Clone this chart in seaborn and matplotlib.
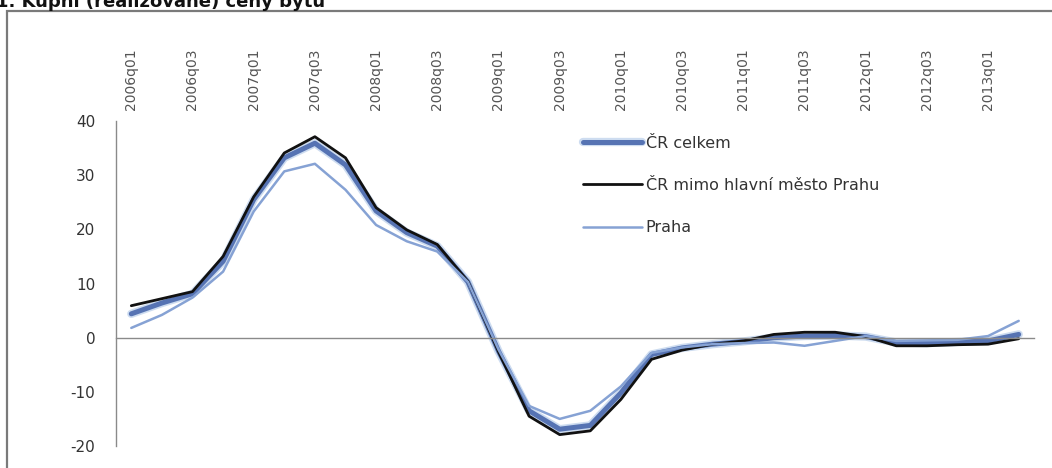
import numpy as np
import pandas as pd
import seaborn as sns
import matplotlib.pyplot as plt
import matplotlib.patheffects as pe
from matplotlib.patches import Rectangle

# quarters 2006q01 .. 2013q02
quarters = [f"{y}q0{q}" for y in range(2006, 2014) for q in range(1, 5)][:30]

cr_celkem = [4.4, 6.4, 8.1, 14.1, 25.5, 33.2, 35.9, 31.9, 23.4, 19.4, 16.9, 10.3,
             -2.5, -13.5, -16.9, -16.2, -10.2, -3.1, -1.9, -1.2, -0.7, 0.0, 0.3, 0.4,
             0.2, -0.9, -1.0, -0.8, -0.6, 0.6]
cr_mimo_prahu = [5.9, 7.2, 8.5, 15.0, 26.0, 34.1, 37.1, 33.2, 24.0, 19.9, 17.2, 10.4,
                 -2.6, -14.5, -17.9, -17.2, -11.4, -4.0, -2.3, -1.2, -0.6, 0.6, 1.0, 1.0,
                 0.2, -1.5, -1.5, -1.3, -1.2, -0.2]
praha = [1.8, 4.2, 7.4, 12.2, 23.3, 30.7, 32.1, 27.3, 20.8, 17.8, 15.9, 10.3,
         -2.2, -12.6, -15.0, -13.5, -9.0, -2.8, -1.8, -1.2, -1.0, -0.9, -1.5, -0.6,
         0.3, -0.6, -0.5, -0.4, 0.3, 3.1]

title = "1. Kupní (realizované) ceny bytů"
series_names = ["ČR celkem", "ČR mimo hlavní město Prahu", "Praha"]

df = pd.DataFrame({"ctvrtleti": quarters,
                   series_names[0]: cr_celkem,
                   series_names[1]: cr_mimo_prahu,
                   series_names[2]: praha})
df["pos"] = np.arange(len(df))

sns.set_style("white")
plt.rcParams["font.family"] = ["DejaVu Sans"]
plt.rcParams["axes.unicode_minus"] = False

fig = plt.figure(figsize=(10.52, 4.68), dpi=100)
ax = fig.add_axes([116 / 1052, 22 / 468, 918 / 1052, 325 / 468])

styles = {
    series_names[0]: dict(color="#5673B3", linewidth=3.6),
    series_names[1]: dict(color="#111111", linewidth=2.0),
    series_names[2]: dict(color="#86A2D4", linewidth=1.8),
}
for name in series_names:
    sns.lineplot(data=df, x="pos", y=name, ax=ax, label=name, **styles[name])

ax.lines[0].set_path_effects([pe.Stroke(linewidth=6, foreground="#cddcf0"), pe.Normal()])

ax.set_xlim(-0.5, len(quarters) - 0.5)
ax.set_ylim(-20, 40)
ax.set_yticks(range(-20, 41, 10))
ax.set_xlabel("")
ax.set_ylabel("")

# category axis crossing at zero, tick marks between categories
ax.spines["bottom"].set_position(("data", 0))
ax.spines["top"].set_visible(False)
ax.spines["right"].set_visible(False)
for s in ["left", "bottom"]:
    ax.spines[s].set_color("#8a8a8a")
    ax.spines[s].set_linewidth(1.0)
ax.set_xticks(np.arange(-0.5, len(quarters), 1.0))
ax.set_xticklabels([])
ax.tick_params(axis="x", direction="out", length=5, color="#8a8a8a", width=1)
ax.tick_params(axis="y", direction="out", length=6, color="#8a8a8a", width=1,
               pad=9, labelsize=11, labelcolor="#333333")

# quarter labels on top
top = ax.secondary_xaxis("top")
top.set_xticks(df["pos"][::2])
top.set_xticklabels(df["ctvrtleti"][::2], rotation=90, fontsize=10, color="#555555")
top.tick_params(length=0, pad=8)
top.spines["top"].set_visible(False)

leg = ax.legend(loc="upper left", bbox_to_anchor=(0.502, 0.975), frameon=False,
                fontsize=11.5, handlelength=3.7, handletextpad=0.2, labelspacing=1.72,
                borderaxespad=0)
for t in leg.get_texts():
    t.set_color("#333333")

# outer frame and clipped title
fig.patches.append(Rectangle((7 / 1052, -0.1), 1.2, (468 - 11) / 468 + 0.1,
                             transform=fig.transFigure, fill=False,
                             edgecolor="#7a7a7a", linewidth=1.6))
fig.text(-0.004, (468 - 7) / 468, title, fontsize=13, fontweight="bold",
         va="baseline", ha="left", color="#111111")

fig.savefig("out.png", dpi=100)
